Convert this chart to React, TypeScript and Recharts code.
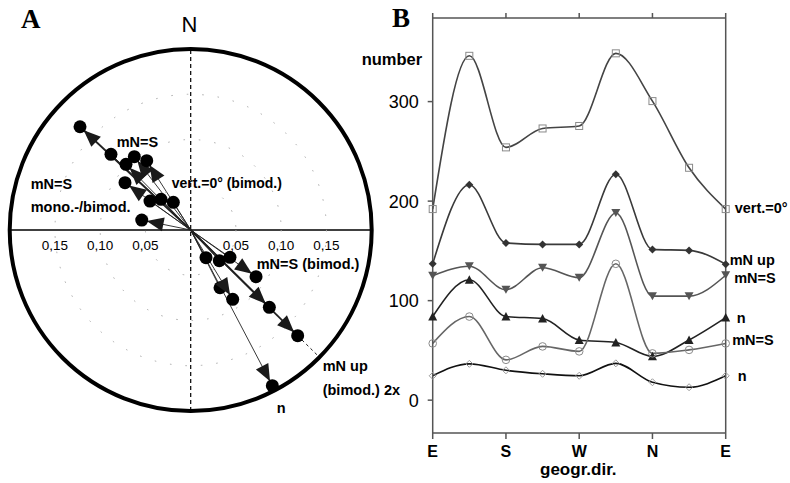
import React from "react";
import {
    ScatterChart,
    Scatter,
    LineChart,
    Line,
    XAxis,
    YAxis,
    ReferenceLine,
    ReferenceDot,
    LabelList,
} from "recharts";

// panel A: mean vectors, east / north components
const vectorEast = [
    -0.1223, -0.0881, -0.0623, -0.0715, -0.0486, -0.0726, -0.045, -0.0328, -0.0192, -0.0541,
    0.0169, 0.0316, 0.0434, 0.0722, 0.0324, 0.0464, 0.0869, 0.1182, 0.0902,
];
const vectorNorth = [
    0.1141, 0.0836, 0.081, 0.0726, 0.0766, 0.0523, 0.032, 0.0339, 0.0306, 0.011,
    -0.0306, -0.0339, -0.0302, -0.0516, -0.0638, -0.0766, -0.0854, -0.1168, -0.172,
];
const vectorArrow = [1, 0, 1, 1, 1, 1, 0, 0, 0, 1, 0, 0, 0, 1, 0, 1, 1, 1, 1];
const vectorBold = [1, 0, 0, 0, 0, 0, 0, 0, 0, 0, 0, 0, 0, 0, 0, 0, 1, 1, 0];
const vectorDashedOut = [0, 0, 0, 0, 0, 0, 0, 0, 0, 0, 0, 0, 0, 0, 0, 0, 0, 1, 0];
const rimRadius = 0.2;
const ringRadii = [0.05, 0.1, 0.15];
const scaleTicks = [-0.15, -0.1, -0.05, 0.05, 0.1, 0.15];

// panel B: number per geographic direction
const azimuth = [0, 45, 90, 135, 180, 225, 270, 315, 360];
const dirTicks = [0, 90, 180, 270, 360];
const dirNames = ["E", "S", "W", "N", "E"];
const vertZero = [192, 346, 254, 273, 275.5, 348.5, 300.5, 233.5, 192];
const mNup = [137, 216.5, 158, 156.5, 156.5, 227, 151.5, 150.5, 136.5];
const mNeqS = [125, 134.5, 111, 133, 123, 188, 104.5, 104.5, 125.5];
const nMono = [84, 121, 84, 82, 60.5, 58, 44, 60.5, 83];
const mNeqSmono = [57, 84, 40.5, 54, 49, 137, 47, 50.5, 57];
const nBimod = [24.5, 36.5, 30, 26.5, 24.5, 37, 18, 13, 24.5];
const countTicks = [0, 100, 200, 300];

const SANS = "'Liberation Sans', Arial, sans-serif";
const SERIF = "'Liberation Serif', 'Times New Roman', serif";

const PLOT_A = 362;
const PX_A = PLOT_A / (2 * rimRadius);

const vectors = vectorEast.map((x, i) => ({
    x,
    y: vectorNorth[i],
    arrow: vectorArrow[i],
}));

const rows = azimuth.map((dir, i) => ({
    dir,
    vert: vertZero[i],
    up: mNup[i],
    eqS: mNeqS[i],
    n1: nMono[i],
    eqS2: mNeqSmono[i],
    n2: nBimod[i],
}));

function VectorEnd(p: any) {
    const { cx, cy, payload } = p;
    if (cx == null || cy == null) return null;
    const len = Math.hypot(payload.x, payload.y);
    const ux = payload.x / len;
    const uy = -payload.y / len;
    const tx = cx - ux * 5;
    const ty = cy - uy * 5;
    const bx = tx - ux * 17;
    const by = ty - uy * 17;
    const nx = -uy;
    const ny = ux;
    return (
        <g>
            {payload.arrow ? (
                <polygon
                    points={`${tx},${ty} ${bx + nx * 7},${by + ny * 7} ${bx - nx * 7},${by - ny * 7}`}
                    fill="#1a1a1a"
                />
            ) : null}
            <circle cx={cx} cy={cy} r={6.5} fill="#000" />
        </g>
    );
}

function Rings(p: any) {
    const { cx, cy } = p;
    return (
        <g>
            {ringRadii.map((r) => (
                <circle
                    key={r}
                    cx={cx}
                    cy={cy}
                    r={r * PX_A}
                    fill="none"
                    stroke="#aaa"
                    strokeWidth={1}
                    strokeDasharray="1.5 14"
                />
            ))}
            <circle cx={cx} cy={cy} r={rimRadius * PX_A} fill="none" stroke="#000" strokeWidth={4} />
        </g>
    );
}

function marker(kind: string, color: string) {
    return (p: any) => {
        const { cx, cy, index } = p;
        if (cx == null || cy == null) return <g key={index} />;
        if (kind === "square")
            return <rect key={index} x={cx - 3.5} y={cy - 3.5} width={7} height={7} fill="none" stroke={color} />;
        if (kind === "diamond")
            return (
                <polygon key={index} points={`${cx},${cy - 4} ${cx + 4},${cy} ${cx},${cy + 4} ${cx - 4},${cy}`} fill={color} />
            );
        if (kind === "openDiamond")
            return (
                <polygon
                    key={index}
                    points={`${cx},${cy - 3.5} ${cx + 3.5},${cy} ${cx},${cy + 3.5} ${cx - 3.5},${cy}`}
                    fill="none"
                    stroke={color}
                />
            );
        if (kind === "down")
            return (
                <polygon key={index} points={`${cx - 4.5},${cy - 4} ${cx + 4.5},${cy - 4} ${cx},${cy + 4}`} fill={color} />
            );
        if (kind === "up")
            return (
                <polygon key={index} points={`${cx - 4.5},${cy + 4} ${cx + 4.5},${cy + 4} ${cx},${cy - 4.5}`} fill={color} />
            );
        return <circle key={index} cx={cx} cy={cy} r={3.8} fill="none" stroke={color} />;
    };
}

function endLabel(text: string, dx: number, dy: number) {
    return (p: any) => {
        if (p.index !== azimuth.length - 1) return null;
        return (
            <text
                x={p.x + dx}
                y={p.y + dy}
                fontFamily={SANS}
                fontWeight="bold"
                fontSize={14.5}
                fill="#000"
            >
                {text}
            </text>
        );
    };
}

const series = [
    { key: "vert", name: "vert.=0°", kind: "square", line: "#444", mark: "#8a8a8a", dx: 9, dy: 4 },
    { key: "up", name: "mN up", kind: "diamond", line: "#3a3a3a", mark: "#333", dx: 4, dy: 1 },
    { key: "eqS", name: "mN=S", kind: "down", line: "#555", mark: "#555", dx: 8.5, dy: 8 },
    { key: "n1", name: "n", kind: "up", line: "#222", mark: "#222", dx: 11, dy: 5.5 },
    { key: "eqS2", name: "mN=S", kind: "circle", line: "#666", mark: "#8a8a8a", dx: 6.5, dy: 2 },
    { key: "n2", name: "n", kind: "openDiamond", line: "#111", mark: "#9a9a9a", dx: 12, dy: 5.5 },
];

const boldText = { fontFamily: SANS, fontWeight: "bold" as const, fontSize: 14.5, fill: "#000" };

export default function App() {
    return (
        <div
            style={{
                position: "absolute",
                left: 0,
                top: 0,
                width: 790,
                height: 483,
                background: "#fff",
                overflow: "hidden",
            }}
        >
            <div style={{ position: "absolute", left: 0, top: 0 }}>
                <ScatterChart
                    width={410}
                    height={483}
                    margin={{ top: 49, left: 9.7, right: 410 - 9.7 - PLOT_A, bottom: 483 - 49 - PLOT_A }}
                >
                    <XAxis type="number" dataKey="x" domain={[-rimRadius, rimRadius]} hide />
                    <YAxis type="number" dataKey="y" domain={[-rimRadius, rimRadius]} hide />
                    <ReferenceDot x={0} y={0} r={0} shape={Rings} ifOverflow="visible" />
                    <ReferenceLine y={0} stroke="#000" strokeWidth={1.5} />
                    <ReferenceLine x={0} stroke="#000" strokeWidth={1.2} strokeDasharray="4 3" />
                    {scaleTicks.map((t) => (
                        <ReferenceDot
                            key={t}
                            x={t}
                            y={0}
                            r={0}
                            fill="none"
                            stroke="none"
                            label={{
                                value: Math.abs(t).toFixed(2).replace(".", ","),
                                position: "bottom",
                                offset: 10,
                                fontFamily: SANS,
                                fontSize: 13.5,
                                fill: "#000",
                            }}
                        />
                    ))}
                    {vectors.map((v, i) => (
                        <ReferenceLine
                            key={"v" + i}
                            segment={[
                                { x: 0, y: 0 },
                                { x: v.x, y: v.y },
                            ]}
                            stroke="#222"
                            strokeWidth={vectorBold[i] ? 1.8 : 0.9}
                            ifOverflow="visible"
                        />
                    ))}
                    {vectors.map((v, i) => {
                        if (!vectorDashedOut[i]) return null;
                        const k = rimRadius / Math.hypot(v.x, v.y);
                        return (
                            <ReferenceLine
                                key={"d" + i}
                                segment={[
                                    { x: v.x, y: v.y },
                                    { x: v.x * k, y: v.y * k },
                                ]}
                                stroke="#222"
                                strokeWidth={1}
                                strokeDasharray="3 3"
                                ifOverflow="visible"
                            />
                        );
                    })}
                    <Scatter data={vectors} shape={VectorEnd} isAnimationActive={false} />
                </ScatterChart>
            </div>

            <div style={{ position: "absolute", left: 330, top: 0 }}>
                <LineChart
                    width={460}
                    height={483}
                    data={rows}
                    margin={{ top: 8, left: 42.7, right: 54.3, bottom: 20 }}
                >
                    <XAxis
                        dataKey="dir"
                        type="number"
                        domain={[0, 360]}
                        ticks={dirTicks}
                        interval={0}
                        tickFormatter={(v: number) => dirNames[dirTicks.indexOf(v)]}
                        height={30}
                        stroke="#555"
                        strokeWidth={1.5}
                        tickSize={6}
                        tickMargin={7}
                        tick={{ fontFamily: SANS, fontWeight: "bold", fontSize: 16, fill: "#000" }}
                    />
                    <XAxis
                        xAxisId="top"
                        orientation="top"
                        dataKey="dir"
                        type="number"
                        domain={[0, 360]}
                        ticks={dirTicks}
                        interval={0}
                        tickFormatter={() => ""}
                        height={10}
                        stroke="#555"
                        strokeWidth={1.5}
                        tickSize={5}
                    />
                    <YAxis
                        type="number"
                        domain={[-33, 384]}
                        ticks={countTicks}
                        interval={0}
                        width={60}
                        stroke="#555"
                        strokeWidth={1.5}
                        tickSize={5}
                        tickMargin={9}
                        tick={{ fontFamily: SANS, fontSize: 18, fill: "#000" }}
                    />
                    <YAxis
                        yAxisId="right"
                        orientation="right"
                        type="number"
                        domain={[-33, 384]}
                        ticks={countTicks}
                        interval={0}
                        width={10}
                        stroke="#555"
                        strokeWidth={1.5}
                        tickSize={5}
                        tickFormatter={() => ""}
                    />
                    {series.map((s) => (
                        <Line
                            key={s.key}
                            dataKey={s.key}
                            type="monotone"
                            stroke={s.line}
                            strokeWidth={1.6}
                            dot={marker(s.kind, s.mark)}
                            activeDot={false}
                            isAnimationActive={false}
                        >
                            <LabelList dataKey={s.key} content={endLabel(s.name, s.dx, s.dy)} />
                        </Line>
                    ))}
                </LineChart>
            </div>

            <svg
                width={790}
                height={483}
                style={{ position: "absolute", left: 0, top: 0, pointerEvents: "none" }}
            >
                <text x={21} y={28} fontFamily={SERIF} fontWeight="bold" fontSize={27}>
                    A
                </text>
                <text x={189.5} y={32} fontFamily={SANS} fontSize={22} textAnchor="middle">
                    N
                </text>
                <text x={116.7} y={146.7} {...boldText}>
                    mN=S
                </text>
                <text x={171.7} y={188} {...boldText} fontSize={14}>
                    vert.=0° (bimod.)
                </text>
                <text x={30.7} y={189} {...boldText}>
                    mN=S
                </text>
                <text x={30.7} y={211.7} {...boldText}>
                    mono.-/bimod.
                </text>
                <text x={256.7} y={269.3} {...boldText}>
                    mN=S (bimod.)
                </text>
                <text x={322.7} y={370.7} {...boldText}>
                    mN up
                </text>
                <text x={322.7} y={395} {...boldText}>
                    (bimod.) 2x
                </text>
                <text x={276.7} y={413} {...boldText}>
                    n
                </text>

                <text x={392} y={27} fontFamily={SERIF} fontWeight="bold" fontSize={27}>
                    B
                </text>
                <text x={361.7} y={65} {...boldText} fontSize={16.5}>
                    number
                </text>
                <text x={578.3} y={475} {...boldText} fontSize={17} textAnchor="middle">
                    geogr.dir.
                </text>
            </svg>
        </div>
    );
}
